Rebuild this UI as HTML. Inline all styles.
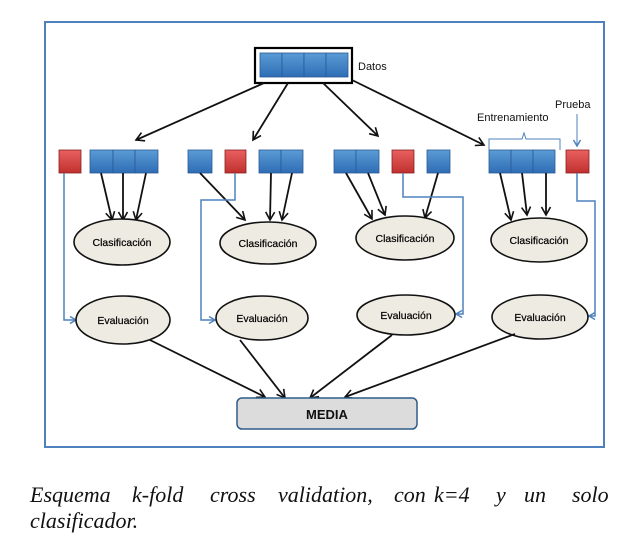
<!DOCTYPE html>
<html><head><meta charset="utf-8"><style>
html,body{margin:0;padding:0;background:#fff;width:629px;height:542px;overflow:hidden}
svg{display:block}
.s{font-family:"Liberation Sans","DejaVu Sans",sans-serif;font-size:11px;fill:#111}
.e{font-family:"Liberation Sans","DejaVu Sans",sans-serif;font-size:10.5px;fill:#000;stroke:#000;stroke-width:0.2}
.c{font-family:"Liberation Serif",serif;font-style:italic;font-size:22px;fill:#111}
</style></head><body>
<svg width="629" height="542" viewBox="0 0 629 542" xmlns="http://www.w3.org/2000/svg">
<defs>
<linearGradient id="b" x1="0" y1="0" x2="0" y2="1"><stop offset="0" stop-color="#5b9bd5"/><stop offset="1" stop-color="#2e6db5"/></linearGradient>
<linearGradient id="r" x1="0" y1="0" x2="0" y2="1"><stop offset="0" stop-color="#e86060"/><stop offset="1" stop-color="#c0302e"/></linearGradient>
<marker id="a" markerWidth="12" markerHeight="12" refX="9" refY="6" orient="auto" markerUnits="userSpaceOnUse"><path d="M1,1.5 L9,6 L1,10.5" fill="none" stroke="#111" stroke-width="1.6"/></marker>
<marker id="ab" markerWidth="10" markerHeight="10" refX="8" refY="5" orient="auto" markerUnits="userSpaceOnUse"><path d="M2,1.5 L8,5 L2,8.5" fill="none" stroke="#4f81bd" stroke-width="1.5"/></marker>
</defs>
<rect x="45" y="22" width="559" height="425" fill="#fff" stroke="#4f81bd" stroke-width="2"/>
<rect x="255" y="48" width="97" height="35" fill="#fff" stroke="#000" stroke-width="2.2"/>
<g stroke="#2a5a95" stroke-width="0.8" fill="url(#b)">
<rect x="260" y="53" width="22" height="24"/><rect x="282" y="53" width="22" height="24"/><rect x="304" y="53" width="22" height="24"/><rect x="326" y="53" width="22" height="24"/>
</g>
<text x="358" y="70" class="s">Datos</text>
<g stroke="#111" stroke-width="1.8" fill="none" marker-end="url(#a)">
<line x1="264" y1="83" x2="136" y2="140"/>
<line x1="288" y1="83" x2="253" y2="140"/>
<line x1="323" y1="83" x2="378" y2="136"/>
<line x1="352" y1="80" x2="484" y2="145"/>
</g>
<g stroke="#2a5a95" stroke-width="0.8" fill="url(#b)">
<rect x="90" y="150" width="23" height="23"/><rect x="113" y="150" width="22" height="23"/><rect x="135" y="150" width="23" height="23"/>
<rect x="188" y="150" width="24" height="23"/>
<rect x="259" y="150" width="22" height="23"/><rect x="281" y="150" width="22" height="23"/>
<rect x="334" y="150" width="22" height="23"/><rect x="356" y="150" width="23" height="23"/>
<rect x="427" y="150" width="23" height="23"/>
<rect x="489" y="150" width="22" height="23"/><rect x="511" y="150" width="22" height="23"/><rect x="533" y="150" width="22" height="23"/>
</g>
<g stroke="#8a2020" stroke-width="0.8" fill="url(#r)">
<rect x="59" y="150" width="22" height="23"/>
<rect x="225" y="150" width="21" height="23"/>
<rect x="392" y="150" width="22" height="23"/>
<rect x="566" y="150" width="23" height="23"/>
</g>
<text x="477" y="121" class="s">Entrenamiento</text>
<text x="555" y="108" class="s">Prueba</text>
<path d="M489,150 V139 H522 L524,133 L526,139 H560 V150" fill="none" stroke="#4f81bd" stroke-width="1"/>
<line x1="577" y1="114" x2="577" y2="146" stroke="#4f81bd" stroke-width="1" marker-end="url(#ab)"/>
<g stroke="#111" stroke-width="1.8" fill="none" marker-end="url(#a)">
<line x1="101" y1="173" x2="112" y2="220"/><line x1="123" y1="173" x2="123" y2="220"/><line x1="146" y1="173" x2="136" y2="220"/>
<line x1="200" y1="173" x2="245" y2="220"/><line x1="271" y1="173" x2="270" y2="220"/><line x1="292" y1="173" x2="282" y2="220"/>
<line x1="346" y1="173" x2="372" y2="219"/><line x1="368" y1="173" x2="385" y2="215"/><line x1="438" y1="173" x2="425" y2="218"/>
<line x1="500" y1="173" x2="511" y2="220"/><line x1="522" y1="173" x2="527" y2="215"/><line x1="546" y1="173" x2="546" y2="215"/>
</g>
<g stroke="#4f81bd" stroke-width="1.5" fill="none" marker-end="url(#ab)">
<path d="M64,173 V320 H76"/>
<path d="M235,173 V200 H201 V320 H215"/>
<path d="M403,173 V197 H463 V314 H456"/>
<path d="M577,173 V201 H595 V316 H589"/>
</g>
<g fill="#eeebe2" stroke="#111" stroke-width="1.6">
<ellipse cx="122" cy="242" rx="48" ry="23"/>
<ellipse cx="268" cy="243" rx="48" ry="21"/>
<ellipse cx="405" cy="238" rx="49" ry="22"/>
<ellipse cx="539" cy="240" rx="48" ry="22"/>
<ellipse cx="123" cy="320" rx="47" ry="24"/>
<ellipse cx="262" cy="318" rx="46" ry="22"/>
<ellipse cx="406" cy="315" rx="49" ry="20"/>
<ellipse cx="540" cy="317" rx="48" ry="22"/>
</g>
<g text-anchor="middle">
<text x="122" y="246" class="e">Clasificación</text>
<text x="268" y="247" class="e">Clasificación</text>
<text x="405" y="242" class="e">Clasificación</text>
<text x="539" y="244" class="e">Clasificación</text>
<text x="123" y="324" class="e">Evaluación</text>
<text x="262" y="322" class="e">Evaluación</text>
<text x="406" y="319" class="e">Evaluación</text>
<text x="540" y="321" class="e">Evaluación</text>
</g>
<g stroke="#111" stroke-width="1.8" fill="none" marker-end="url(#a)">
<line x1="150" y1="340" x2="265" y2="397"/>
<line x1="240" y1="340" x2="285" y2="398"/>
<line x1="392" y1="335" x2="310" y2="398"/>
<line x1="515" y1="334" x2="345" y2="397"/>
</g>
<rect x="237" y="398" width="180" height="31" rx="5" fill="#dcdcdc" stroke="#2e5c8a" stroke-width="1.5"/>
<text x="327" y="419" text-anchor="middle" class="s" style="font-size:13px;font-weight:600">MEDIA</text>
<g class="c">
<text x="30" y="502">Esquema</text>
<text x="132" y="502">k-fold</text>
<text x="210" y="502">cross</text>
<text x="278" y="502">validation,</text>
<text x="394" y="502">con</text>
<text x="434" y="502">k=4</text>
<text x="496" y="502">y</text>
<text x="524" y="502">un</text>
<text x="572" y="502">solo</text>
<text x="30" y="528">clasificador.</text>
</g>
</svg>
</body></html>
